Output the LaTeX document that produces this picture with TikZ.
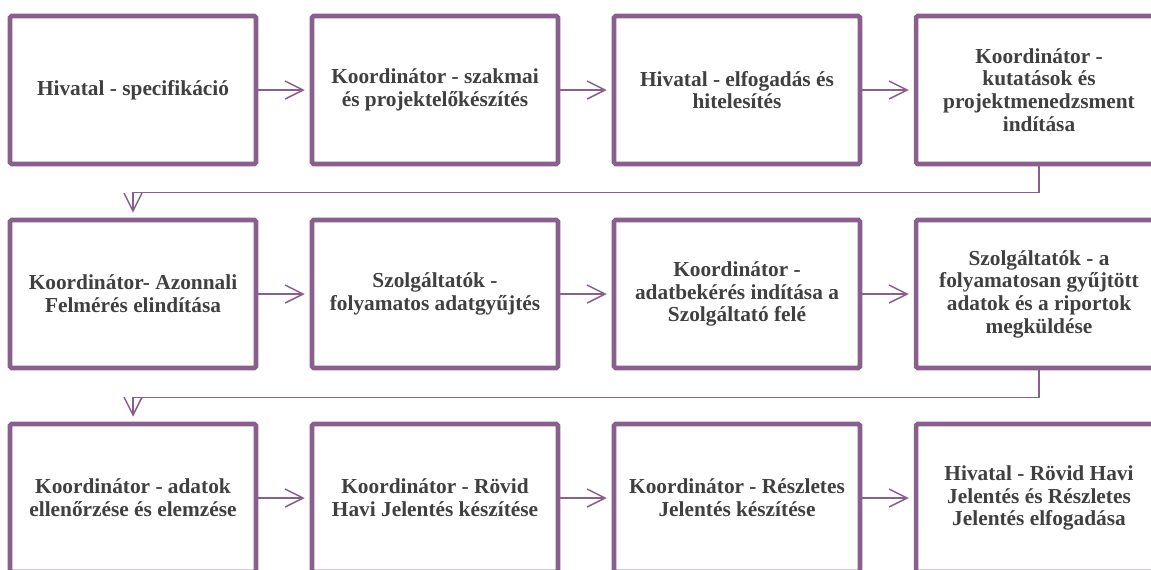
\documentclass[tikz,border=0pt]{standalone}
\usepackage{fontspec}
\setmainfont{Liberation Serif}
\usetikzlibrary{arrows.meta}
\definecolor{boxpurple}{RGB}{137,96,139}
\definecolor{txtgray}{RGB}{64,64,64}
\begin{document}
\begin{tikzpicture}[x=0.75pt,y=-0.75pt,
  stepbox/.style={draw=boxpurple, line width=3.4pt, rounded corners=1.2pt,
    minimum width=184.5pt, minimum height=111pt, inner sep=0pt,
    align=center, text=txtgray, fill=white,
    font=\fontsize{16}{17}\selectfont\bfseries},
  flow/.style={draw=boxpurple, line width=1.1pt,
    -{Straight Barb[length=13.5pt,width=13.5pt,line width=1.1pt]},
    shorten >=3.75pt}]
\useasboundingbox (0,0) rectangle (1151,569);
\clip (0,0) rectangle (1151,569);
% row 1
\node[stepbox] (n1) at (133,90) {Hivatal - specifikáció};
\node[stepbox] (n2) at (435,90) {Koordinátor - szakmai\\és projektelőkészítés};
\node[stepbox] (n3) at (737,90) {Hivatal - elfogadás és\\hitelesítés};
\node[stepbox] (n4) at (1039,90) {Koordinátor -\\kutatások és\\projektmenedzsment\\indítása};
% row 2
\node[stepbox] (n5) at (133,294) {Koordinátor- Azonnali\\Felmérés elindítása};
\node[stepbox] (n6) at (435,294) {Szolgáltatók -\\folyamatos adatgyűjtés};
\node[stepbox] (n7) at (737,294) {Koordinátor -\\adatbekérés indítása a\\Szolgáltató felé};
\node[stepbox] (n8) at (1039,294) {Szolgáltatók - a\\folyamatosan gyűjtött\\adatok és a riportok\\megküldése};
% row 3
\node[stepbox] (n9) at (133,498) {Koordinátor - adatok\\ellenőrzése és elemzése};
\node[stepbox] (n10) at (435,498) {Koordinátor - Rövid\\Havi Jelentés készítése};
\node[stepbox] (n11) at (737,498) {Koordinátor - Részletes\\Jelentés készítése};
\node[stepbox] (n12) at (1039,498) {Hivatal - Rövid Havi\\Jelentés és Részletes\\Jelentés elfogadása};
% connectors
\draw[flow] (n1) -- (n2);
\draw[flow] (n2) -- (n3);
\draw[flow] (n3) -- (n4);
\draw[flow] (n4.south) -- ++(0,26) -| (n5.north);
\draw[flow] (n5) -- (n6);
\draw[flow] (n6) -- (n7);
\draw[flow] (n7) -- (n8);
\draw[flow] (n8.south) -- ++(0,27) -| (n9.north);
\draw[flow] (n9) -- (n10);
\draw[flow] (n10) -- (n11);
\draw[flow] (n11) -- (n12);
\end{tikzpicture}
\end{document}
